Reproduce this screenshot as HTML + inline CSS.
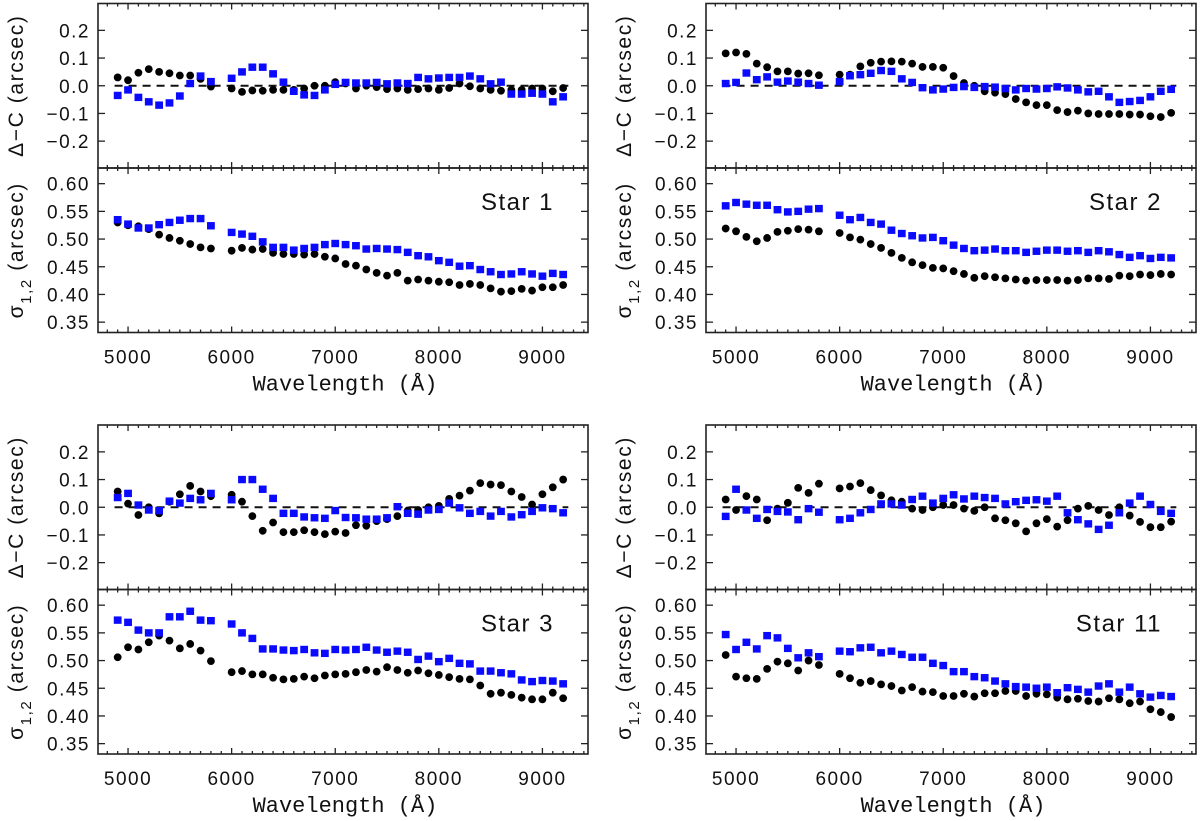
<!DOCTYPE html>
<html><head><meta charset="utf-8"><style>
html,body{margin:0;padding:0;background:#fff;}
svg{display:block;}
.tk{font-family:"Liberation Sans",sans-serif;font-size:19px;letter-spacing:1.5px;fill:#111;}
.ax{font-family:"Liberation Mono",monospace;font-size:22px;fill:#111;}
.yl{font-family:"Liberation Sans",sans-serif;font-size:21px;letter-spacing:1.6px;fill:#111;}
.st{font-family:"Liberation Sans",sans-serif;font-size:24px;letter-spacing:1.5px;fill:#111;}
</style></head><body>
<svg id="fig" width="1200" height="821" viewBox="0 0 1200 821" xmlns="http://www.w3.org/2000/svg"></svg>
<script>
const waves = [4900,5000,5100,5200,5300,5400,5500,5600,5700,5800,6000,6100,6200,6300,6400,6500,6600,6700,6800,6900,7000,7100,7200,7300,7400,7500,7600,7700,7800,7900,8000,8100,8200,8300,8400,8500,8600,8700,8800,8900,9000,9100,9200];
const xTicks = [5000,6000,7000,8000,9000];
const dTicks = [-0.2,-0.1,0.0,0.1,0.2];
const dTickLabels = ["\u22120.2","\u22120.1","0.0","0.1","0.2"];
const sTicks = [0.35,0.40,0.45,0.50,0.55,0.60];
const sTickLabels = ["0.35","0.40","0.45","0.50","0.55","0.60"];
const starNames = ["Star 1","Star 2","Star 3","Star 11"];

const s1dBlack = [0.03,0.02,0.047,0.06,0.05,0.045,0.037,0.037,0.025,-0.003,-0.01,-0.022,-0.017,-0.018,-0.015,-0.015,-0.015,-0.01,0.0,0.0,0.013,0.008,-0.01,0.0,-0.005,-0.012,-0.01,-0.015,-0.012,-0.01,-0.015,-0.008,0.008,-0.002,-0.01,-0.015,-0.018,-0.015,-0.015,-0.01,-0.01,-0.02,-0.008];
const s1dBlue = [-0.035,-0.015,-0.042,-0.058,-0.07,-0.062,-0.037,0.008,0.035,0.015,0.027,0.05,0.067,0.067,0.043,0.013,-0.02,-0.033,-0.035,-0.015,0.005,0.012,0.01,0.01,0.012,0.007,0.01,0.008,0.03,0.025,0.028,0.03,0.03,0.035,0.025,0.007,0.013,-0.03,-0.03,-0.027,-0.03,-0.058,-0.04];
const s1sBlack = [0.530,0.525,0.523,0.518,0.508,0.502,0.497,0.491,0.485,0.483,0.479,0.484,0.481,0.482,0.475,0.473,0.473,0.472,0.473,0.468,0.465,0.455,0.452,0.445,0.439,0.434,0.439,0.425,0.427,0.425,0.423,0.422,0.417,0.419,0.417,0.411,0.405,0.406,0.410,0.407,0.413,0.413,0.417];
const s1sBlue = [0.535,0.527,0.520,0.520,0.526,0.530,0.534,0.537,0.537,0.524,0.512,0.509,0.505,0.495,0.485,0.485,0.480,0.483,0.485,0.490,0.492,0.490,0.488,0.482,0.483,0.482,0.481,0.476,0.470,0.468,0.461,0.458,0.451,0.452,0.445,0.441,0.436,0.437,0.441,0.437,0.433,0.438,0.436];

const s2dBlack = [0.117,0.12,0.115,0.08,0.067,0.052,0.052,0.044,0.045,0.038,0.04,0.04,0.07,0.083,0.087,0.088,0.087,0.08,0.068,0.068,0.065,0.035,0.01,0.0,-0.02,-0.025,-0.03,-0.048,-0.06,-0.07,-0.07,-0.088,-0.095,-0.09,-0.1,-0.102,-0.102,-0.102,-0.104,-0.104,-0.11,-0.113,-0.098];
const s2dBlue = [0.008,0.012,0.046,0.022,0.032,0.013,0.017,0.013,0.008,0.002,0.015,0.036,0.04,0.045,0.055,0.052,0.025,0.012,-0.007,-0.015,-0.012,-0.006,-0.003,-0.006,-0.003,-0.005,-0.01,-0.015,-0.01,-0.012,-0.01,-0.004,-0.008,-0.015,-0.022,-0.02,-0.04,-0.06,-0.057,-0.053,-0.04,-0.02,-0.013];
const s2sBlack = [0.519,0.514,0.504,0.496,0.502,0.513,0.515,0.518,0.517,0.514,0.511,0.503,0.499,0.491,0.484,0.475,0.466,0.458,0.453,0.448,0.447,0.442,0.437,0.430,0.433,0.431,0.429,0.427,0.425,0.426,0.426,0.426,0.425,0.426,0.429,0.429,0.428,0.434,0.433,0.436,0.435,0.437,0.436];
const s2sBlue = [0.560,0.566,0.563,0.561,0.561,0.553,0.549,0.550,0.554,0.555,0.543,0.535,0.539,0.530,0.527,0.516,0.510,0.506,0.502,0.503,0.497,0.489,0.483,0.479,0.480,0.482,0.479,0.479,0.476,0.478,0.480,0.480,0.478,0.479,0.476,0.479,0.477,0.472,0.467,0.470,0.465,0.467,0.466];

const s3dBlack = [0.057,0.013,-0.028,0.0,-0.022,0.02,0.047,0.077,0.057,0.04,0.045,0.02,-0.032,-0.085,-0.055,-0.09,-0.09,-0.083,-0.09,-0.097,-0.088,-0.093,-0.065,-0.067,-0.05,-0.043,-0.032,-0.012,-0.01,0.0,0.005,0.03,0.042,0.06,0.087,0.082,0.08,0.057,0.037,0.01,0.047,0.072,0.1];
const s3dBlue = [0.035,0.05,0.008,-0.01,-0.012,0.022,0.015,0.032,0.027,0.05,0.027,0.1,0.1,0.065,0.032,-0.022,-0.022,-0.035,-0.038,-0.04,-0.012,-0.037,-0.038,-0.043,-0.043,-0.038,0.002,-0.022,-0.025,-0.01,-0.008,0.015,-0.002,-0.022,-0.015,-0.032,-0.015,-0.035,-0.027,-0.015,-0.002,-0.005,-0.02];
const s3sBlack = [0.506,0.524,0.520,0.533,0.545,0.536,0.522,0.530,0.518,0.499,0.479,0.481,0.475,0.475,0.469,0.466,0.467,0.471,0.468,0.473,0.475,0.476,0.479,0.483,0.480,0.488,0.483,0.478,0.482,0.477,0.474,0.470,0.467,0.466,0.455,0.440,0.442,0.438,0.433,0.430,0.430,0.442,0.432];
const s3sBlue = [0.573,0.569,0.555,0.550,0.550,0.579,0.579,0.589,0.573,0.572,0.566,0.550,0.540,0.521,0.521,0.519,0.518,0.520,0.514,0.513,0.520,0.519,0.520,0.524,0.519,0.515,0.517,0.515,0.502,0.508,0.498,0.504,0.495,0.494,0.481,0.481,0.478,0.476,0.465,0.462,0.464,0.463,0.458];

const s11dBlack = [0.028,-0.01,0.04,0.028,-0.047,-0.005,0.016,0.07,0.052,0.085,0.068,0.075,0.087,0.062,0.043,0.025,0.02,-0.005,-0.01,0.0,0.008,0.008,-0.005,-0.013,0.0,-0.04,-0.047,-0.058,-0.087,-0.058,-0.043,-0.07,-0.047,-0.005,0.005,-0.01,-0.028,0.0,-0.03,-0.053,-0.072,-0.072,-0.052];
const s11dBlue = [-0.033,0.065,-0.01,-0.04,-0.008,-0.015,-0.017,-0.045,-0.005,-0.018,-0.045,-0.04,-0.02,-0.008,0.012,0.012,0.008,0.028,0.04,0.015,0.032,0.045,0.03,0.04,0.035,0.032,0.012,0.02,0.025,0.027,0.022,0.04,-0.02,-0.045,-0.06,-0.08,-0.065,-0.02,0.015,0.04,0.01,-0.015,-0.022];
const s11sBlack = [0.510,0.471,0.468,0.467,0.485,0.498,0.495,0.482,0.500,0.492,0.476,0.468,0.460,0.463,0.457,0.454,0.446,0.452,0.444,0.443,0.436,0.436,0.440,0.435,0.441,0.441,0.445,0.445,0.436,0.440,0.439,0.433,0.430,0.431,0.427,0.426,0.432,0.430,0.423,0.426,0.412,0.407,0.398];
const s11sBlue = [0.547,0.520,0.533,0.521,0.545,0.541,0.522,0.505,0.514,0.507,0.517,0.516,0.523,0.524,0.514,0.517,0.511,0.506,0.506,0.495,0.491,0.480,0.480,0.471,0.469,0.463,0.458,0.453,0.452,0.450,0.452,0.442,0.451,0.448,0.443,0.454,0.458,0.443,0.452,0.440,0.434,0.437,0.435];

const svg = document.getElementById('fig');
const NS = 'http://www.w3.org/2000/svg';
function mk(tag, attrs, parent){
  const e = document.createElementNS(NS, tag);
  for (const k in attrs) e.setAttribute(k, attrs[k]);
  (parent||svg).appendChild(e);
  return e;
}
const XMIN=4710, XMAX=9440, PW=490, SUBH=164.5;
const DMIN=-0.297, DMAX=0.297, SMIN=0.3313, SMAX=0.6283;

function drawSub(g, ox, oy, ymin, ymax, ticks, labels, black, blue, kind, star){
  const xs = v => ox + (v-XMIN)/(XMAX-XMIN)*PW;
  const ys = v => oy + SUBH - (v-ymin)/(ymax-ymin)*SUBH;
  for (let w=4800; w<=9400; w+=100){
    const major = (w%1000===0);
    const L = major?6:3;
    const t1 = mk('line',{x1:xs(w),x2:xs(w),y1:oy,y2:oy+L,stroke:'#222','stroke-width':1.3},g);
    
    
    const t2 = mk('line',{x1:xs(w),x2:xs(w),y1:oy+SUBH,y2:oy+SUBH-L,stroke:'#222','stroke-width':1.3},g);
    
    
  }
  ticks.forEach((t,i)=>{
    const y = ys(t);
    const a = mk('line',{x1:ox,x2:ox+7,y1:y,y2:y,stroke:'#222','stroke-width':1.3},g);
    
    
    const b = mk('line',{x1:ox+PW,x2:ox+PW-7,y1:y,y2:y,stroke:'#222','stroke-width':1.3},g);
    
    
    const tl = mk('text',{x:ox-8,y:y+7,'text-anchor':'end',class:'tk'},g);
    
    
    tl.textContent = labels[i];
  });
  if (kind==='d'){
    const z = mk('line',{x1:xs(4870),x2:xs(9250),y1:ys(0),y2:ys(0),stroke:'#111','stroke-width':2,'stroke-dasharray':'8,6'},g);
    
    
  }
  black.forEach((v,i)=>{
    const c = mk('circle',{cx:xs(waves[i]),cy:ys(v),r:3.9,fill:'#000'},g);
    
    
  });
  blue.forEach((v,i)=>{
    const r = mk('rect',{x:xs(waves[i])-3.9,y:ys(v)-3.7,width:7.8,height:7.4,fill:'#0a0aff'},g);
    
    
  });
  const f = mk('rect',{x:ox,y:oy,width:PW,height:SUBH,fill:'none',stroke:'#222','stroke-width':1.6},g);
  
  
  const cy = oy+SUBH/2, lx = ox-79;
  const yl = mk('text',{x:lx,y:cy+4,'text-anchor':'middle',class:'yl',transform:`rotate(-90 ${lx} ${cy})`},g);
  
  
  if (kind==='d'){
    yl.textContent = '\u0394\u2212C  (arcsec)';
  } else {
    const t1 = mk('tspan',{},yl); t1.textContent='\u03c3';
    const t2 = mk('tspan',{'font-size':'15px',dy:'8'},yl); t2.textContent='1,2';
    const t3 = mk('tspan',{dy:'-8'},yl); t3.textContent=' (arcsec)';
  }
  if (star){
    const st = mk('text',{x:ox+PW-34,y:oy+42,'text-anchor':'end',class:'st'},g);
    
    
    st.textContent = star;
  }
  if (kind==='s'){
    xTicks.forEach(w=>{
      const tl = mk('text',{x:xs(w),y:oy+SUBH+31,'text-anchor':'middle',class:'tk'},g);
      
      
      tl.textContent = w;
    });
    const xt = mk('text',{x:ox+PW/2+2,y:oy+SUBH+58,'text-anchor':'middle',class:'ax'},g);
    
    
    xt.textContent = 'Wavelength (\u00c5)';
  }
}
const panels = [
  [98,3.5,s1dBlack,s1dBlue,s1sBlack,s1sBlue],
  [706,3.5,s2dBlack,s2dBlue,s2sBlack,s2sBlue],
  [98,425,s3dBlack,s3dBlue,s3sBlack,s3sBlue],
  [706,425,s11dBlack,s11dBlue,s11sBlack,s11sBlue]
];
panels.forEach((p,i)=>{
  const g = mk('g',{});
  
  
  drawSub(g,p[0],p[1],DMIN,DMAX,dTicks,dTickLabels,p[2],p[3],'d',null);
  drawSub(g,p[0],p[1]+SUBH,SMIN,SMAX,sTicks,sTickLabels,p[4],p[5],'s',starNames[i]);
});
</script>
</body></html>
